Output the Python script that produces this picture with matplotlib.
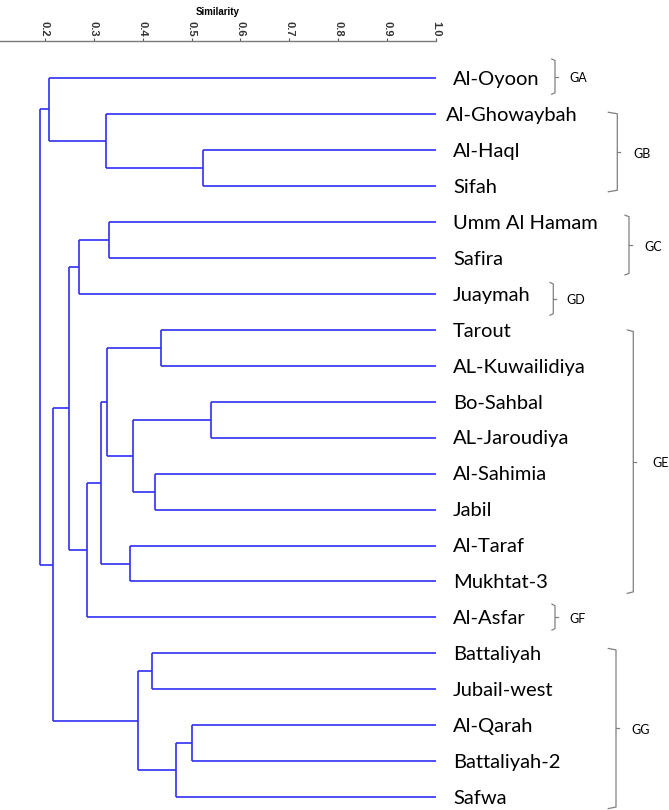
import matplotlib
matplotlib.use("Agg")
import matplotlib.pyplot as plt
import numpy as np

# ---------------- data ----------------
leaves = ["Al-Oyoon", "Al-Ghowaybah", "Al-Haql", "Sifah", "Umm Al Hamam", "Safira",
          "Juaymah", "Tarout", "AL-Kuwailidiya", "Bo-Sahbal", "AL-Jaroudiya",
          "Al-Sahimia", "Jabil", "Al-Taraf", "Mukhtat-3", "Al-Asfar", "Battaliyah",
          "Jubail-west", "Al-Qarah", "Battaliyah-2", "Safwa"]

# linkage: (left child, right child, similarity); new clusters numbered from 21
merge_left = [9, 2, 18, 23, 7, 11, 16, 27, 21, 13, 4, 25, 1, 32, 34, 31, 36, 37, 0, 39]
merge_right = [10, 3, 19, 20, 8, 12, 17, 24, 26, 14, 5, 29, 22, 30, 15, 6, 35, 28, 33, 38]
merge_sim = [0.540, 0.524, 0.501, 0.468, 0.438, 0.425, 0.418, 0.390, 0.381, 0.373,
             0.332, 0.326, 0.325, 0.315, 0.287, 0.270, 0.250, 0.216, 0.209, 0.190]

groups = ["GA", "GB", "GC", "GD", "GE", "GF", "GG"]
group_first = [0, 1, 4, 6, 7, 15, 16]
group_last = [0, 3, 5, 6, 14, 15, 20]

sim_ticks = [0.2, 0.3, 0.4, 0.5, 0.6, 0.7, 0.8, 0.9, 1.0]
sim_tick_labels = ["0.2", "0.3", "0.4", "0.5", "0.6", "0.7", "0.8", "0.9", "1.0"]

# ---------------- style / layout ----------------
W, H = 669, 810
fig = plt.figure(figsize=(W / 100, H / 100), dpi=100)
ax = fig.add_axes([0, 0, 436 / W, (H - 41) / H])
ax.set_xlim(0.108, 1.0)
ax.set_ylim(20.35, -1.02)

blue = "#2f2ff2"
lw = 1.2

n = len(leaves)
node_x = {i: 1.0 for i in range(n)}
node_y = {i: float(i) for i in range(n)}
for k, (a, b, s) in enumerate(zip(merge_left, merge_right, merge_sim)):
    idx = n + k
    ya, yb = node_y[a], node_y[b]
    ax.plot([s, s], [ya, yb], color=blue, lw=lw, clip_on=False, solid_capstyle="butt")
    ax.plot([s, node_x[a]], [ya, ya], color=blue, lw=lw, clip_on=False, solid_capstyle="butt")
    ax.plot([s, node_x[b]], [yb, yb], color=blue, lw=lw, clip_on=False, solid_capstyle="butt")
    node_x[idx] = s
    node_y[idx] = (ya + yb) / 2

# leaf labels
lab_font = dict(family=["Lato", "DejaVu Sans"], fontsize=14.5, color="black")
for i, name in enumerate(leaves):
    dx = 7.2 if name == "Al-Ghowaybah" else 12.3
    ax.annotate(name, xy=(1.0, i), xytext=(dx, -5.0), textcoords="offset points",
                ha="left", va="baseline", annotation_clip=False, **lab_font)

# axis styling
for sp in ["left", "right", "bottom"]:
    ax.spines[sp].set_visible(False)
ax.spines["top"].set_color("#7a7a7a")
ax.spines["top"].set_linewidth(1.0)
ax.set_yticks([])
ax.xaxis.set_ticks_position("top")
ax.xaxis.set_label_position("top")
ax.set_xticks(sim_ticks)
ax.set_xticklabels(sim_tick_labels, rotation=270,
                   family=["Liberation Sans Narrow", "Liberation Sans"],
                   fontsize=8, fontweight="bold", color="#333333")
ax.tick_params(axis="x", direction="out", length=2.5, width=0.8, color="#555555", pad=1)
ax.set_xlabel("Similarity", family=["Liberation Sans Narrow", "Liberation Sans"],
              fontsize=7, fontweight="bold", labelpad=4)

# group brackets (overlay in pixel space)
ov = fig.add_axes([0, 0, 1, 1])
ov.set_xlim(0, W)
ov.set_ylim(H, 0)
ov.axis("off")
ov.patch.set_alpha(0)

bracket_x = [555, 617.3, 629, 553.3, 633.3, 555, 616]
hook_len = [3.3, 9, 4, 3.3, 6, 3, 7.7]
pad_top = [0.52, 0.04, 0.18, 0.31, -0.01, 0.37, 0.14]
pad_bot = [0.46, 0.17, 0.48, 0.60, 0.33, 0.35, 0.31]
label_gap = [14, 16, 15, 13, 19, 14, 15]


def ypix(i):
    return H - ax.transData.transform((0, i))[1]


gray = "#808080"
for g, f, l, bx, hl, pt, pb, lg in zip(groups, group_first, group_last, bracket_x,
                                       hook_len, pad_top, pad_bot, label_gap):
    yt = ypix(f - pt)
    yb = ypix(l + pb)
    ym = (yt + yb) / 2
    ov.plot([bx - hl, bx, bx, bx - hl], [yt, yt + 1.5, yb - 1.5, yb], color=gray, lw=0.9)
    ov.plot([bx, bx + 3], [ym, ym], color=gray, lw=0.9)
    ov.text(bx + lg, ym + 1.5, g, ha="left", va="center",
            family=["Lato", "DejaVu Sans"], fontsize=9, color="black")

fig.savefig("out.png", dpi=100)
